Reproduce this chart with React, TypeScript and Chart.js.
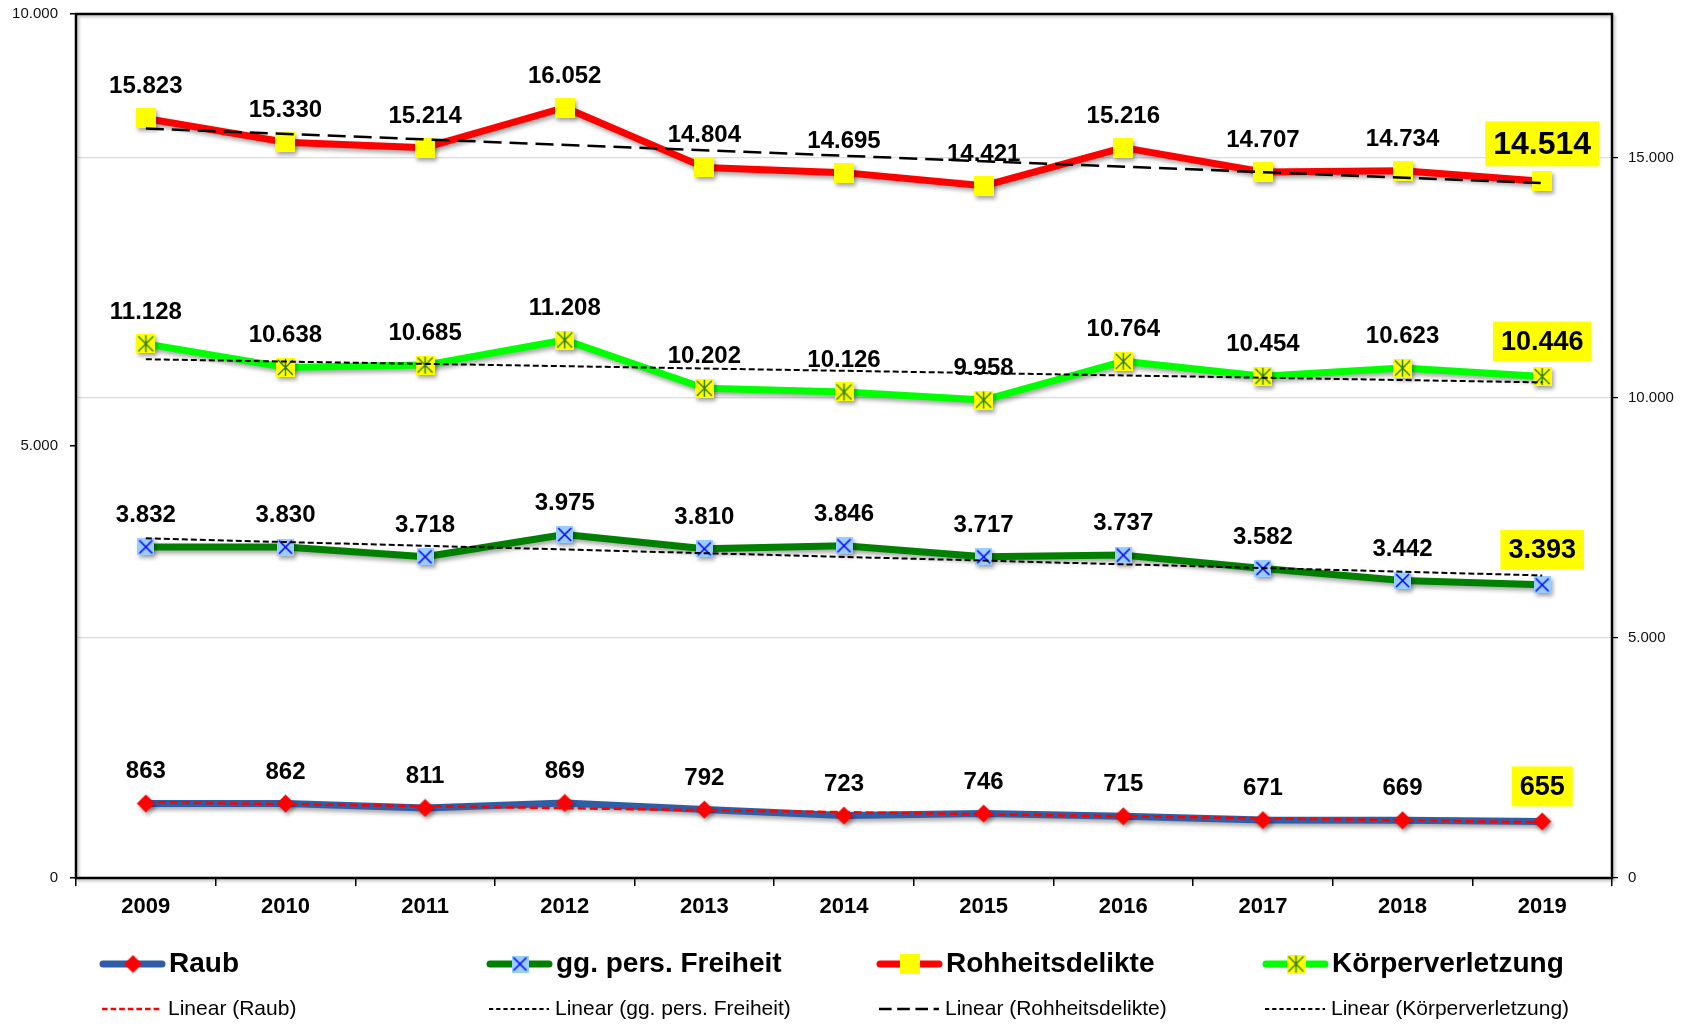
import React, { useEffect, useRef } from 'react';
import { Chart, registerables } from 'chart.js';

Chart.register(...registerables);

const FONT = '"Liberation Sans", Arial, sans-serif';

// ---- data ----
const years = ['2009', '2010', '2011', '2012', '2013', '2014', '2015', '2016', '2017', '2018', '2019'];
const raub = [863, 862, 811, 869, 792, 723, 746, 715, 671, 669, 655];
const freiheit = [3832, 3830, 3718, 3975, 3810, 3846, 3717, 3737, 3582, 3442, 3393];
const rohheit = [15823, 15330, 15214, 16052, 14804, 14695, 14421, 15216, 14707, 14734, 14514];
const koerper = [11128, 10638, 10685, 11208, 10202, 10126, 9958, 10764, 10454, 10623, 10446];
// trend line end values (first year, last year)
const trendRaub = [879, 644];
const trendFreiheit = [3931, 3502];
const trendRohheit = [15615, 14478];
const trendKoerper = [10807, 10326];
const leftTicks = [0, 5000, 10000];
const rightTicks = [0, 5000, 10000, 15000];
const seriesNames = ['Raub', 'gg. pers. Freiheit', 'Rohheitsdelikte', 'Körperverletzung'];
const trendNames = ['Linear (Raub)', 'Linear (gg. pers. Freiheit)', 'Linear (Rohheitsdelikte)', 'Linear (Körperverletzung)'];

const fmt = (v: number) => String(Math.round(v)).replace(/\B(?=(\d{3})+(?!\d))/g, '.');

const endpoints = (pair: number[]) =>
  years.map((_, i) => (i === 0 ? pair[0] : i === years.length - 1 ? pair[1] : null));

function makeMarker(size: number, draw: (g: CanvasRenderingContext2D, s: number) => void) {
  const c = document.createElement('canvas');
  c.width = size;
  c.height = size;
  const g = c.getContext('2d')!;
  draw(g, size);
  return c;
}

function buildMarkers() {
  const freiheitMarker = makeMarker(17, (g, s) => {
    g.fillStyle = '#99CCFF';
    g.fillRect(0, 0, s, s);
    g.strokeStyle = '#0000FF';
    g.lineWidth = 1.5;
    g.beginPath();
    g.moveTo(2, 2);
    g.lineTo(s - 2, s - 2);
    g.moveTo(s - 2, 2);
    g.lineTo(2, s - 2);
    g.stroke();
  });
  const rohheitMarker = makeMarker(20, (g, s) => {
    g.fillStyle = '#FFFF00';
    g.fillRect(0, 0, s, s);
  });
  const koerperMarker = makeMarker(19, (g, s) => {
    g.fillStyle = '#FFFF00';
    g.fillRect(0, 0, s, s);
    g.strokeStyle = '#2A7A10';
    g.lineWidth = 1.4;
    g.beginPath();
    g.moveTo(2, 2);
    g.lineTo(s - 2, s - 2);
    g.moveTo(s - 2, 2);
    g.lineTo(2, s - 2);
    g.moveTo(s / 2, 1);
    g.lineTo(s / 2, s - 1);
    g.stroke();
  });
  const raubMarker = makeMarker(19, (g, s) => {
    g.fillStyle = '#FF0000';
    g.beginPath();
    g.moveTo(s / 2, 0.5);
    g.lineTo(s - 0.5, s / 2);
    g.lineTo(s / 2, s - 0.5);
    g.lineTo(0.5, s / 2);
    g.closePath();
    g.fill();
  });
  return { raubMarker, freiheitMarker, rohheitMarker, koerperMarker };
}

const shadowPlugin = {
  id: 'seriesShadow',
  beforeDatasetDraw(chart: any, args: any) {
    const ds = chart.data.datasets[args.index];
    if (!ds.shadow) return;
    const ctx = chart.ctx;
    ctx.save();
    ctx.shadowColor = 'rgba(0,0,0,0.35)';
    ctx.shadowBlur = 4;
    ctx.shadowOffsetX = 2;
    ctx.shadowOffsetY = 3;
  },
  afterDatasetDraw(chart: any, args: any) {
    const ds = chart.data.datasets[args.index];
    if (!ds.shadow) return;
    chart.ctx.restore();
  },
};

const borderPlugin = {
  id: 'plotBorder',
  beforeDatasetsDraw(chart: any) {
    const { ctx, chartArea: a } = chart;
    ctx.save();
    ctx.shadowColor = 'rgba(0,0,0,0.25)';
    ctx.shadowBlur = 3;
    ctx.shadowOffsetX = 2;
    ctx.shadowOffsetY = 2;
    ctx.strokeStyle = '#000';
    ctx.lineWidth = 2.5;
    ctx.strokeRect(a.left, a.top, a.right - a.left, a.bottom - a.top);
    ctx.restore();
  },
};

const labelPlugin = {
  id: 'valueLabels',
  afterDatasetsDraw(chart: any) {
    const ctx = chart.ctx;
    chart.data.datasets.forEach((ds: any, di: number) => {
      if (!ds.valueLabels) return;
      const meta = chart.getDatasetMeta(di);
      meta.data.forEach((pt: any, i: number) => {
        const text = fmt(ds.data[i]);
        const last = i === ds.data.length - 1;
        ctx.save();
        ctx.fillStyle = '#000';
        ctx.textAlign = 'center';
        if (last) {
          const fs = ds.lastLabelSize;
          ctx.font = `bold ${fs}px ${FONT}`;
          const w = ctx.measureText(text).width + 16;
          const h = fs >= 30 ? 45 : 40;
          const bottom = pt.y - 15;
          ctx.fillStyle = '#FFFF00';
          ctx.fillRect(pt.x - w / 2, bottom - h, w, h);
          ctx.fillStyle = '#000';
          ctx.textBaseline = 'middle';
          ctx.fillText(text, pt.x, bottom - h / 2 + 1);
        } else {
          ctx.font = `bold 24px ${FONT}`;
          ctx.textBaseline = 'alphabetic';
          ctx.fillText(text, pt.x, pt.y - 25);
        }
        ctx.restore();
      });
    });
  },
};

const legendPlugin = {
  id: 'gridLegend',
  afterDraw(chart: any) {
    const ctx = chart.ctx;
    const colX = [100, 487, 877, 1263];
    const rowY = [964, 1009];
    const datasets = chart.data.datasets;
    ctx.save();
    datasets.forEach((ds: any) => {
      const col = ds.legendCol;
      const x0 = colX[col];
      if (!ds.isTrend) {
        const y = rowY[0];
        ctx.save();
        ctx.strokeStyle = ds.borderColor;
        ctx.lineWidth = 7;
        ctx.lineCap = 'round';
        ctx.beginPath();
        ctx.moveTo(x0 + 3, y);
        ctx.lineTo(x0 + 62, y);
        ctx.stroke();
        const img = ds.pointStyle;
        ctx.drawImage(img, x0 + 33 - img.width / 2, y - img.height / 2);
        ctx.restore();
        ctx.fillStyle = '#000';
        ctx.font = `bold 28px ${FONT}`;
        ctx.textAlign = 'left';
        ctx.textBaseline = 'middle';
        ctx.fillText(ds.label, x0 + 69, y);
      } else {
        const y = rowY[1];
        ctx.save();
        ctx.strokeStyle = ds.borderColor;
        ctx.lineWidth = ds.legendDashWidth;
        ctx.setLineDash(ds.legendDash);
        ctx.beginPath();
        ctx.moveTo(x0 + 2, y);
        ctx.lineTo(x0 + 62, y);
        ctx.stroke();
        ctx.restore();
        ctx.fillStyle = '#000';
        ctx.font = `21px ${FONT}`;
        ctx.textAlign = 'left';
        ctx.textBaseline = 'middle';
        ctx.fillText(ds.label, x0 + 68, y);
      }
    });
    ctx.restore();
  },
};

export default function App() {
  const ref = useRef<HTMLCanvasElement | null>(null);

  useEffect(() => {
    if (!ref.current) return;
    const m = buildMarkers();
    Chart.defaults.font.family = FONT;

    const mainLine = (label: string, data: number[], color: string, marker: any, axis: string, col: number, lastSize: number) => ({
      label,
      data,
      yAxisID: axis,
      borderColor: color,
      backgroundColor: color,
      borderWidth: 7,
      borderJoinStyle: 'round',
      borderCapStyle: 'round',
      tension: 0,
      pointStyle: marker,
      pointRadius: 10,
      pointHoverRadius: 10,
      order: 1,
      shadow: true,
      valueLabels: true,
      lastLabelSize: lastSize,
      legendCol: col,
      isTrend: false,
    });

    const trendLine = (label: string, pair: number[], color: string, dash: number[], width: number, axis: string, col: number) => ({
      label,
      data: endpoints(pair),
      yAxisID: axis,
      borderColor: color,
      borderWidth: width,
      borderDash: dash,
      spanGaps: true,
      pointRadius: 0,
      pointHoverRadius: 0,
      tension: 0,
      order: 0,
      legendCol: col,
      isTrend: true,
      legendDash: dash.map((d) => Math.max(3, d * 0.7)),
      legendDashWidth: width,
    });

    const fixY = (width: number) => (s: any) => {
      s.width = width;
      s.paddingTop = 0;
      s.paddingBottom = 0;
    };

    const chart = new Chart(ref.current, {
      type: 'line',
      data: {
        labels: years,
        datasets: [
          mainLine(seriesNames[0], raub, '#2F5DA6', m.raubMarker, 'y', 0, 27),
          mainLine(seriesNames[1], freiheit, '#008000', m.freiheitMarker, 'y', 1, 27),
          mainLine(seriesNames[2], rohheit, '#FF0000', m.rohheitMarker, 'y2', 2, 32),
          mainLine(seriesNames[3], koerper, '#00FF00', m.koerperMarker, 'y2', 3, 27),
          trendLine(trendNames[0], trendRaub, '#FF0000', [8, 4], 2.5, 'y', 0),
          trendLine(trendNames[1], trendFreiheit, '#000000', [6, 3], 2, 'y', 1),
          trendLine(trendNames[2], trendRohheit, '#000000', [18, 8], 2.5, 'y2', 2),
          trendLine(trendNames[3], trendKoerper, '#000000', [6, 3], 2, 'y2', 3),
        ] as any,
      },
      options: {
        animation: false,
        responsive: true,
        maintainAspectRatio: false,
        layout: { autoPadding: false, padding: { top: 14, left: 0, right: 0, bottom: 0 } },
        plugins: {
          legend: { display: false },
          tooltip: { enabled: false },
        },
        scales: {
          x: {
            type: 'category',
            offset: true,
            grid: {
              offset: true,
              drawOnChartArea: false,
              tickLength: 8,
              tickColor: '#000',
              lineWidth: 1.5,
            },
            border: { display: false },
            ticks: {
              font: { family: FONT, size: 22, weight: 'bold' },
              color: '#000',
              padding: 8,
              maxRotation: 0,
              autoSkip: false,
            },
            afterFit: (s: any) => {
              s.height = 146;
              s.paddingLeft = 0;
              s.paddingRight = 0;
            },
          },
          y: {
            position: 'left',
            min: 0,
            max: 10000,
            afterBuildTicks: (s: any) => {
              s.ticks = leftTicks.map((v) => ({ value: v }));
            },
            grid: {
              drawOnChartArea: false,
              tickLength: 6,
              tickColor: '#000',
              lineWidth: 1.5,
            },
            border: { display: false },
            ticks: {
              font: { family: FONT, size: 15 },
              color: '#111',
              padding: 12,
              callback: (v: any) => fmt(Number(v)),
            },
            afterFit: fixY(76),
          },
          y2: {
            position: 'right',
            min: 0,
            max: 18000,
            afterBuildTicks: (s: any) => {
              s.ticks = rightTicks.map((v) => ({ value: v }));
            },
            grid: {
              drawOnChartArea: true,
              color: '#dcdcdc',
              tickColor: '#000',
              tickLength: 6,
              lineWidth: 1.2,
            },
            border: { display: false },
            ticks: {
              font: { family: FONT, size: 15 },
              color: '#111',
              padding: 10,
              callback: (v: any) => fmt(Number(v)),
            },
            afterFit: fixY(69),
          },
        },
      } as any,
      plugins: [shadowPlugin, borderPlugin, labelPlugin, legendPlugin],
    });

    return () => chart.destroy();
  }, []);

  return (
    <div style={{ position: 'fixed', left: 0, top: 0, width: 1681, height: 1024, background: '#fff' }}>
      <canvas ref={ref} />
    </div>
  );
}
